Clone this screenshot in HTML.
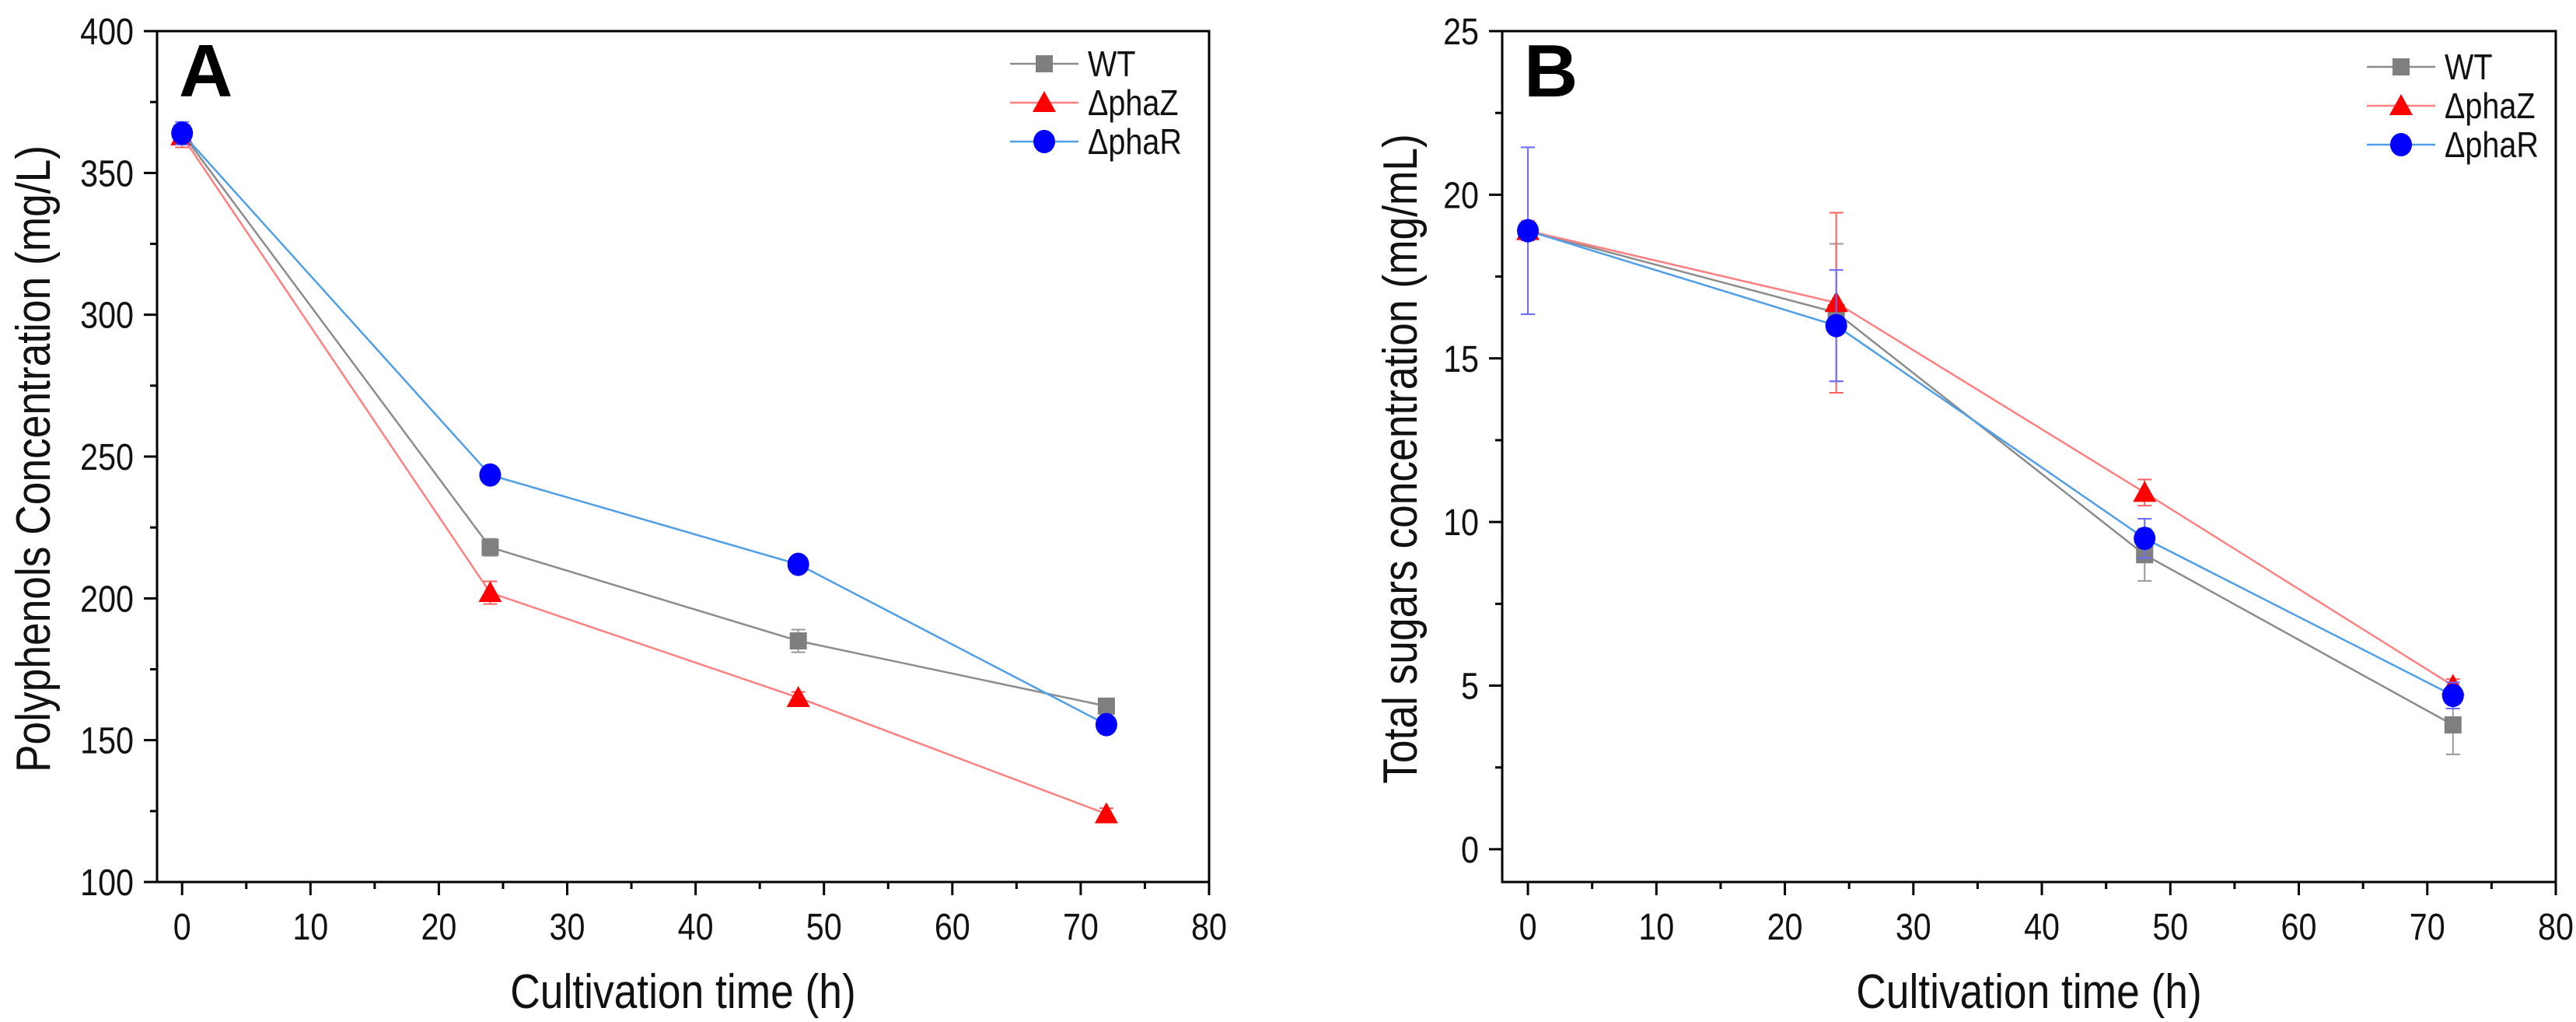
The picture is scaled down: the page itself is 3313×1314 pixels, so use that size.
<!DOCTYPE html>
<html><head><meta charset="utf-8"><style>
html,body{margin:0;padding:0;background:#fff;}
svg{display:block;font-family:"Liberation Sans",sans-serif;}
</style></head><body>
<svg id="fig" width="3313" height="1314" viewBox="0 0 3313 1314" xmlns="http://www.w3.org/2000/svg"></svg>
<script>
const times = [0, 24, 48, 72];
const xTicks = [0, 10, 20, 30, 40, 50, 60, 70, 80];
const seriesNames = ["WT", "ΔphaZ", "ΔphaR"];
// Panel A
const aWT = [364, 218, 185, 162];
const aWTErr = [3, 3, 4, 2];
const aZ = [363, 202, 165, 124];
const aZErr = [4, 4, 2, 2];
const aR = [364, 243.5, 212, 155.5];
const aRErr = [4, 2, 2, 2];
const aYTicks = [100, 150, 200, 250, 300, 350, 400];
// Panel B
const bWT = [18.9, 16.4, 9.0, 3.8];
const bWTErr = [0.2, 2.1, 0.8, 0.9];
const bZ = [18.9, 16.7, 10.9, 5.0];
const bZErr = [0.3, 2.75, 0.4, 0.2];
const bR = [18.9, 16.0, 9.5, 4.7];
const bRErr = [2.55, 1.7, 0.6, 0.4];
const bYTicks = [0, 5, 10, 15, 20, 25];

const NS = "http://www.w3.org/2000/svg";
const svg = document.getElementById('fig');
function mk(tag, attrs, parent) {
  const e = document.createElementNS(NS, tag);
  for (const k in attrs) e.setAttribute(k, attrs[k]);
  (parent || svg).appendChild(e);
  return e;
}
function ctext(parent, x, y, str, size, anchor, rot) {
  const t = mk('text', {x: 0, y: 0, 'font-size': size, 'text-anchor': anchor, fill: '#111',
    transform: `translate(${x},${y})` + (rot ? ' rotate(-90)' : '') + ' scale(0.86,1)'}, parent);
  t.textContent = str;
  return t;
}
const styles = [
  {marker: 'square', fill: '#7f7f7f', line: '#8c8c8c', err: '#9a9a9a'},
  {marker: 'triangle', fill: '#ff0000', line: '#ff8080', err: '#ff6060'},
  {marker: 'circle', fill: '#0000ff', line: '#4f9fe8', err: '#6a6aff'}
];
function drawMarker(g, type, cx, cy, fill, name) {
  let m;
  if (type === 'square') m = mk('rect', {x: cx - 11, y: cy - 11, width: 22, height: 22, fill: fill}, g);
  else if (type === 'triangle') m = mk('polygon', {points: `${cx},${cy - 15} ${cx + 15},${cy + 12} ${cx - 15},${cy + 12}`, fill: fill}, g);
  else m = mk('ellipse', {cx: cx, cy: cy, rx: 14, ry: 15, fill: fill}, g);
  
  
}

function panel(cfg) {
  const g = mk('g', {});
  
  
  const {L, R, T, B, xmin, xmax, ymin, ymax} = cfg;
  const sx = v => L + (v - xmin) / (xmax - xmin) * (R - L);
  const sy = v => B - (v - ymin) / (ymax - ymin) * (B - T);
  const fr = mk('rect', {x: L, y: T, width: R - L, height: B - T, fill: 'none', stroke: '#000', 'stroke-width': 3}, g);
  
  
  xTicks.forEach((t, i) => {
    const x = sx(t);
    mk('line', {x1: x, y1: B, x2: x, y2: B + 17, stroke: '#000', 'stroke-width': 3}, g);
    const tx = ctext(g, x, 1208, t, 48, 'middle', false);
    
    
    if (i < xTicks.length - 1) {
      const xm = sx(t + 5);
      mk('line', {x1: xm, y1: B, x2: xm, y2: B + 9, stroke: '#000', 'stroke-width': 3}, g);
    }
  });
  const yt = cfg.yTicks;
  yt.forEach((t, i) => {
    const y = sy(t);
    mk('line', {x1: L, y1: y, x2: L - 17, y2: y, stroke: '#000', 'stroke-width': 3}, g);
    const tx = ctext(g, L - 30, y + 17, t, 48, 'end', false);
    
    
    if (i < yt.length - 1) {
      const ym = sy((t + yt[i + 1]) / 2);
      mk('line', {x1: L, y1: ym, x2: L - 9, y2: ym, stroke: '#000', 'stroke-width': 3}, g);
    }
  });
  const xt = ctext(g, (L + R) / 2, 1296, 'Cultivation time (h)', 62, 'middle', false);
  
  
  const ytt = ctext(g, cfg.ytX, cfg.ytY, cfg.yTitle, 62, 'middle', true);
  
  
  const pl = mk('text', {x: L + 28, y: T + 84, 'font-size': 96, 'font-weight': 'bold', fill: '#000'}, g);
  pl.textContent = cfg.letter;
  
  
  cfg.series.forEach((s, k) => {
    const st = styles[k];
    const sg = mk('g', {}, g);
    
    
    const pts = times.map((t, i) => `${sx(t)},${sy(s.v[i])}`).join(' ');
    mk('polyline', {points: pts, fill: 'none', stroke: st.line, 'stroke-width': 2.5}, sg);
    times.forEach((t, i) => {
      const x = sx(t), y1 = sy(s.v[i] + s.e[i]), y2 = sy(s.v[i] - s.e[i]);
      mk('line', {x1: x, y1: y1, x2: x, y2: y2, stroke: st.err, 'stroke-width': 2}, sg);
      mk('line', {x1: x - 9, y1: y1, x2: x + 9, y2: y1, stroke: st.err, 'stroke-width': 2}, sg);
      mk('line', {x1: x - 9, y1: y2, x2: x + 9, y2: y2, stroke: st.err, 'stroke-width': 2}, sg);
    });
    times.forEach((t, i) => drawMarker(sg, st.marker, sx(t), sy(s.v[i]), st.fill, 'data-point'));
  });
  const lg = mk('g', {}, g);
  
  
  seriesNames.forEach((n, k) => {
    const st = styles[k];
    const y = cfg.legY + k * 50;
    const eg = mk('g', {}, lg);
    
    
    mk('line', {x1: cfg.legX, y1: y, x2: cfg.legX + 88, y2: y, stroke: st.line, 'stroke-width': 2.5}, eg);
    drawMarker(eg, st.marker, cfg.legX + 44, y, st.fill, 'legend-marker');
    ctext(eg, cfg.legX + 100, y + 16, n, 46, 'start', false);
  });
}

panel({name: 'panel-a', letter: 'A', L: 202, R: 1555, T: 40, B: 1134, xmin: -1.95, xmax: 80, ymin: 100, ymax: 400,
  yTicks: aYTicks, yTitle: 'Polyphenols Concentration (mg/L)', ytX: 64, ytY: 590, legX: 1299, legY: 82,
  series: [{v: aWT, e: aWTErr}, {v: aZ, e: aZErr}, {v: aR, e: aRErr}]});
panel({name: 'panel-b', letter: 'B', L: 1932, R: 3287, T: 40, B: 1134, xmin: -2, xmax: 80, ymin: -1, ymax: 25,
  yTicks: bYTicks, yTitle: 'Total sugars concentration (mg/mL)', ytX: 1822, ytY: 590, legX: 3044, legY: 86,
  series: [{v: bWT, e: bWTErr}, {v: bZ, e: bZErr}, {v: bR, e: bRErr}]});
</script>
</body></html>
